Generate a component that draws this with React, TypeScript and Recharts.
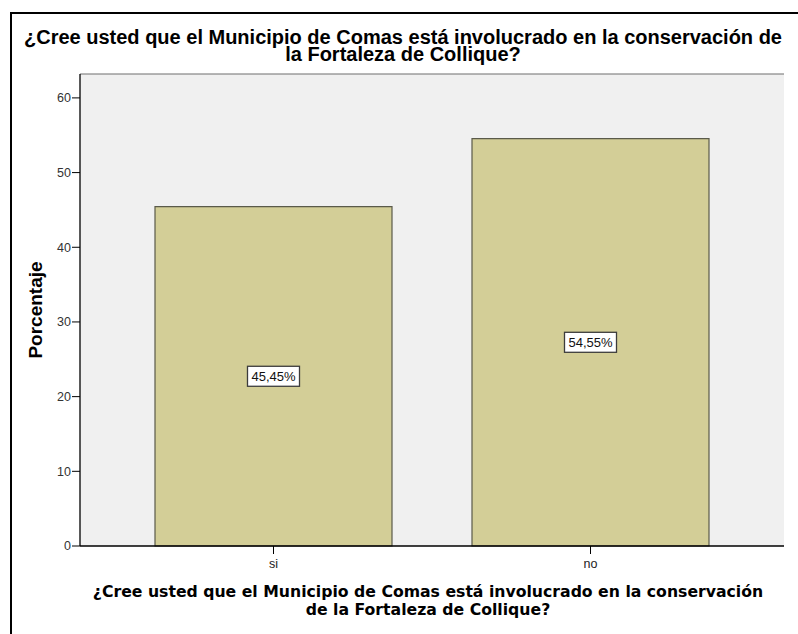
import { BarChart, Bar, XAxis, YAxis, ReferenceLine, LabelList, CartesianGrid } from "recharts";

// ─── Data ─────────────────────────────────────────────────────────────────────

const CATEGORIES = ["si", "no"];
const PERCENTS = [45.45, 54.55];
const Y_TICKS = [0, 10, 20, 30, 40, 50, 60];
const Y_MAX = 63.2;

const TITLE = "¿Cree usted que el Municipio de Comas está involucrado en la conservación de\nla Fortaleza de Collique?";
const X_TITLE = "¿Cree usted que el Municipio de Comas está involucrado en la conservación\nde la Fortaleza de Collique?";

const data = CATEGORIES.map((c, i) => ({ name: c, value: PERCENTS[i] }));

const ARIAL = "'Liberation Sans', Arial, sans-serif";
const BAR_FILL = "#d3ce97";
const PLOT_BG = "#f0f0f0";

function fmt(v: number) { return v.toFixed(2).replace(".", ",") + "%"; }

function BoxLabel(props: any) {
  const { x, y, width, height, value } = props;
  const cx = x + width / 2;
  const cy = y + height / 2;
  const w = 52, h = 20;
  return (
    <g>
      <rect x={cx - w / 2} y={cy - h / 2} width={w} height={h} fill="#fff" stroke="#3c3c3c" strokeWidth={1.3} />
      <text x={cx} y={cy + 4.8} textAnchor="middle" fontFamily={ARIAL} fontSize={13} fill="#111">{fmt(value)}</text>
    </g>
  );
}

function YTitle(props: any) {
  const vb = props.viewBox;
  const x = vb.x + 32;
  const y = vb.y + vb.height / 2;
  return (
    <text x={x} y={y} transform={`rotate(-90, ${x}, ${y})`} textAnchor="middle"
      fontFamily={ARIAL} fontWeight="bold" fontSize={19} fill="#000">Porcentaje</text>
  );
}

export default function App() {
  return (
    <div style={{ position: "absolute", left: 0, top: 0, width: 798, height: 634, background: "#fff", overflow: "hidden" }}>
      {/* frame (cropped on right and bottom) */}
      <div style={{ position: "absolute", left: 10, top: 12, width: 800, height: 640, borderTop: "2px solid #000", borderLeft: "2px solid #000" }} />

      <div style={{ position: "absolute", left: 0, top: 0 }}>
        <BarChart width={798} height={634} data={data} margin={{ top: 74, right: 14, left: 10, bottom: 58 }} barCategoryGap={40}>
          <CartesianGrid horizontal={false} vertical={false} fill={PLOT_BG} yAxisId="l" />
          <XAxis
            dataKey="name"
            padding={{ left: 35, right: 35 }}
            height={30}
            axisLine={{ stroke: "#000", strokeWidth: 1.3 }}
            tickLine={{ stroke: "#000" }}
            tickSize={8}
            tickMargin={5}
            tick={{ fontFamily: ARIAL, fontSize: 12.5, fill: "#222" }}
          />
          <YAxis
            yAxisId="l"
            domain={[0, Y_MAX]}
            ticks={Y_TICKS}
            width={70}
            axisLine={{ stroke: "#000", strokeWidth: 1.3 }}
            tickLine={{ stroke: "#000" }}
            tickSize={8}
            tickMargin={1}
            tick={{ fontFamily: ARIAL, fontSize: 12.5, fill: "#333" }}
            label={<YTitle />}
          />
          <YAxis
            yAxisId="r"
            orientation="right"
            width={0}
            tick={false}
            tickLine={false}
            axisLine={{ stroke: "#6e6e6e", strokeWidth: 1.2 }}
          />
          <ReferenceLine yAxisId="l" y={Y_MAX} stroke="#6e6e6e" strokeWidth={1.2} />
          <Bar yAxisId="l" dataKey="value" fill={BAR_FILL} stroke="#5a5a4a" strokeWidth={1.2} isAnimationActive={false}>
            <LabelList dataKey="value" content={<BoxLabel />} />
          </Bar>
        </BarChart>
      </div>

      {/* chart title */}
      <div style={{ position: "absolute", left: 0, top: 29, width: 806, textAlign: "center", whiteSpace: "pre", fontFamily: ARIAL, fontWeight: "bold", fontSize: 20, lineHeight: "17px", color: "#000" }}>
        {TITLE}
      </div>

      {/* x axis title */}
      <div style={{ position: "absolute", left: 76, top: 583, width: 704, textAlign: "center", whiteSpace: "pre", fontFamily: "'DejaVu Sans', Verdana, sans-serif", fontWeight: "bold", fontSize: 15.7, lineHeight: "18px", color: "#000" }}>
        {X_TITLE}
      </div>
    </div>
  );
}
